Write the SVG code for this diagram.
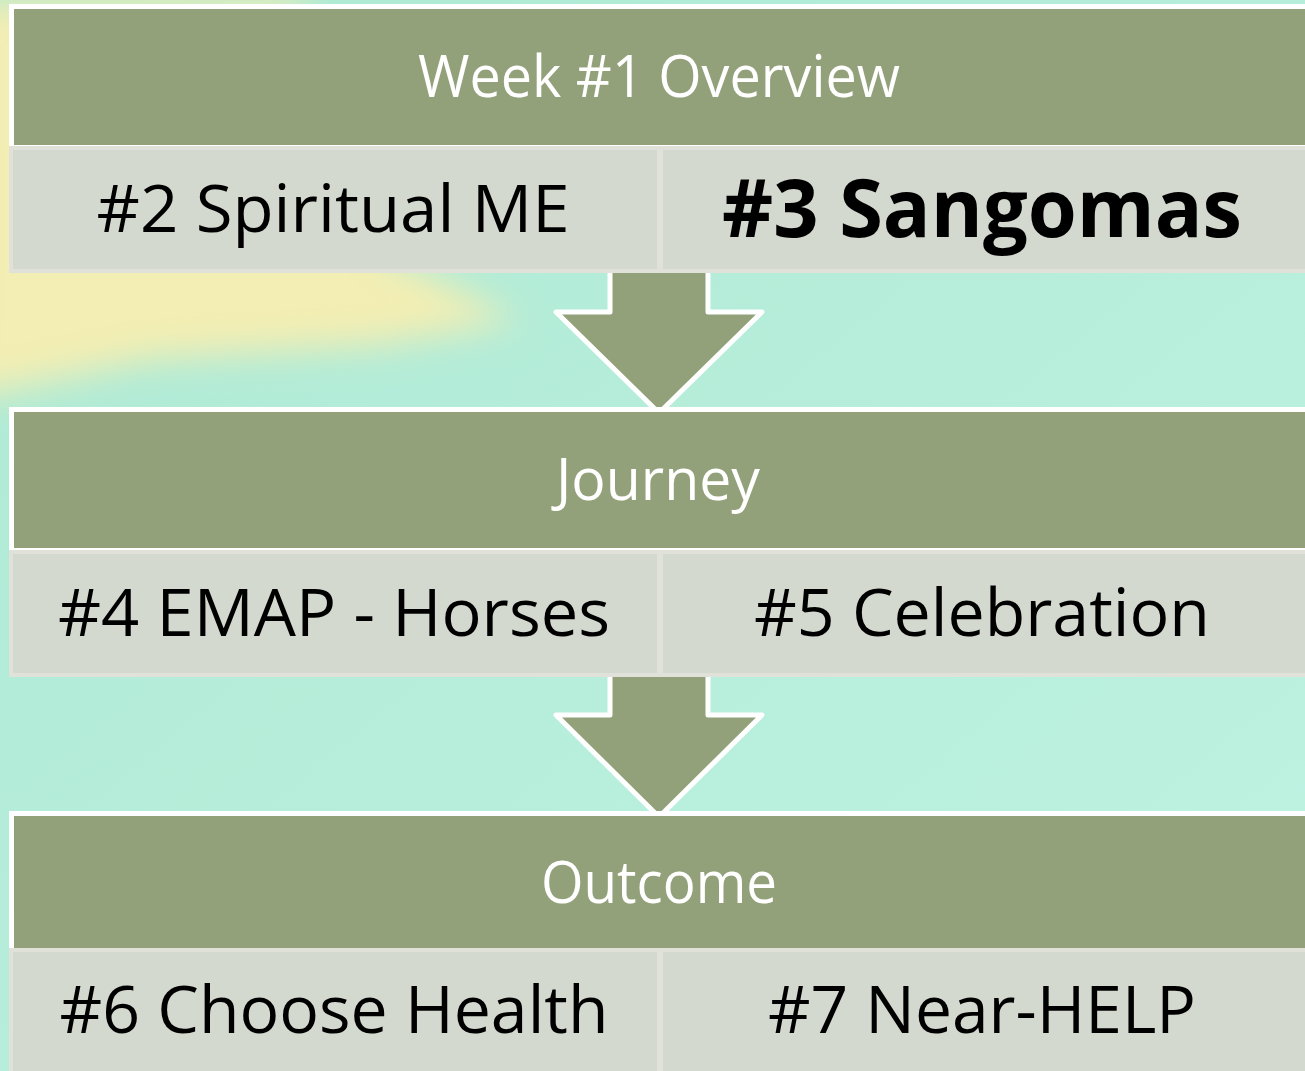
<svg xmlns="http://www.w3.org/2000/svg" width="1305" height="1071" viewBox="0 0 1305 1071">
<defs>
<linearGradient id="bg" x1="0" y1="0" x2="1" y2="1">
<stop offset="0" stop-color="#ade9d3"/>
<stop offset="1" stop-color="#bff2e2"/>
</linearGradient>
<filter id="blur" x="-50%" y="-50%" width="200%" height="200%"><feGaussianBlur stdDeviation="18"/></filter>
<style>
.hdr{fill:#93a17a;stroke:#ffffff;stroke-width:5}
.box{fill:#d3d9cf;stroke:#e0e2da;stroke-width:4}
.arrow{fill:#93a17a;stroke:#ffffff;stroke-width:5;stroke-linejoin:round}
.ht{font-family:"Open Sans","Liberation Sans",sans-serif;font-size:58px;fill:#ffffff;text-anchor:middle}
.bt{font-family:"Open Sans","Liberation Sans",sans-serif;font-size:66px;fill:#000000;text-anchor:middle}
.bb{font-family:"Open Sans","Liberation Sans",sans-serif;font-size:80px;font-weight:bold;fill:#000000;text-anchor:middle}
</style>
</defs>
<rect width="1305" height="1071" fill="url(#bg)"/>
<g filter="url(#blur)">
<path d="M-40 0 L300 0 L380 250 L520 320 L380 345 L150 360 L-40 400 Z" fill="#f3eeb3"/>
</g>
<g id="connectors">
<polygon class="arrow" points="610,268 708,268 708,312 762,312 659,413 556,312 610,312"/>
<polygon class="arrow" points="610,672 708,672 708,715 762,715 659,817 556,715 610,715"/>
</g>
<g id="overview">
<rect class="hdr" x="11.5" y="6.5" width="1300" height="141"/>
<text class="ht" x="659" y="97" textLength="482" lengthAdjust="spacingAndGlyphs">Week #1 Overview</text>
</g>
<g id="spiritual-me">
<rect class="box" x="11" y="148" width="648" height="123"/>
<text class="bt" x="333" y="232" textLength="473" lengthAdjust="spacingAndGlyphs">#2 Spiritual ME</text>
</g>
<g id="sangomas">
<rect class="box" x="661" y="148" width="650" height="123"/>
<text class="bb" x="982" y="237" textLength="520" lengthAdjust="spacingAndGlyphs">#3 Sangomas</text>
</g>
<g id="journey">
<rect class="hdr" x="11.5" y="409.5" width="1300" height="141"/>
<text class="ht" x="658" y="500" textLength="204" lengthAdjust="spacingAndGlyphs">Journey</text>
</g>
<g id="emap-horses">
<rect class="box" x="11" y="552" width="648" height="123"/>
<text class="bt" x="334" y="636" textLength="552" lengthAdjust="spacingAndGlyphs">#4 EMAP - Horses</text>
</g>
<g id="celebration">
<rect class="box" x="661" y="552" width="650" height="123"/>
<text class="bt" x="982" y="636" textLength="456" lengthAdjust="spacingAndGlyphs">#5 Celebration</text>
</g>
<g id="outcome">
<rect class="hdr" x="11.5" y="813.5" width="1300" height="137"/>
<text class="ht" x="659" y="903" textLength="236" lengthAdjust="spacingAndGlyphs">Outcome</text>
</g>
<g id="choose-health">
<rect class="box" x="11" y="950" width="648" height="126"/>
<text class="bt" x="334" y="1033" textLength="549" lengthAdjust="spacingAndGlyphs">#6 Choose Health</text>
</g>
<g id="near-help">
<rect class="box" x="661" y="950" width="650" height="126"/>
<text class="bt" x="982" y="1033" textLength="428" lengthAdjust="spacingAndGlyphs">#7 Near-HELP</text>
</g>
</svg>
